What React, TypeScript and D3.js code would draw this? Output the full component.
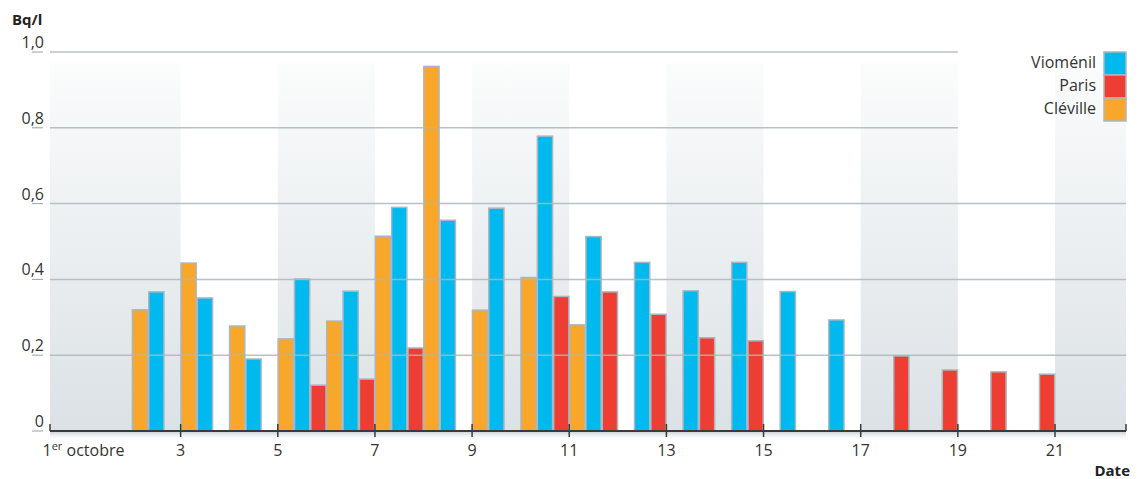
import React from "react";
import * as d3 from "d3";

// days of October (bars sit inside the day, tick at day start)
const days = [2, 3, 4, 5, 6, 7, 8, 9, 10, 11, 12, 13, 14, 15, 16, 17, 18, 19, 20];
const cleville = [0.32, 0.443, 0.277, 0.243, 0.29, 0.514, 0.962, 0.319, 0.405, 0.28, null, null, null, null, null, null, null, null, null];
const viomenil = [0.367, 0.351, 0.19, 0.401, 0.369, 0.59, 0.556, 0.588, 0.778, 0.513, 0.445, 0.37, 0.445, 0.368, 0.293, null, null, null, null];
const paris = [null, null, null, 0.121, 0.137, 0.219, null, null, 0.355, 0.367, 0.308, 0.246, 0.238, null, null, 0.198, 0.161, 0.156, 0.15];

const seriesNames = ["Cléville", "Vioménil", "Paris"];
const legendNames = ["Vioménil", "Paris", "Cléville"];
const colors: Record<string, string> = { "Vioménil": "#00b9ef", Paris: "#ee3d32", "Cléville": "#f9a72b" };
const seriesValues: Record<string, (number | null)[]> = { "Cléville": cleville, "Vioménil": viomenil, Paris: paris };

const xTicks = [1, 3, 5, 7, 9, 11, 13, 15, 17, 19, 21];
const yTicks = [0, 0.2, 0.4, 0.6, 0.8, 1.0];
// shaded periods (start day, end day); null = edge of plot
const bands: [number | null, number | null][] = [[null, 3], [5, 7], [9, 11], [13, 15], [17, 19], [21, null]];

const W = 1144;
const H = 479;
const left = 50;
const right = 1126;
const font = "'Open Sans', 'Noto Sans', sans-serif";

const App = () => {
  const x = d3.scaleLinear().domain([1, 21]).range([83.5, 1055]);
  const y = d3.scaleLinear().domain([0, 1]).range([431, 52]);
  const dayW = x(2) - x(1);
  const inner = d3.scaleBand().domain(seriesNames).range([0, dayW]).paddingInner(0.07).paddingOuter(0.02);
  const fmt = (v: number) => (v === 0 ? "0" : d3.format(".1f")(v).replace(".", ","));

  const bars: { key: string; x: number; y: number; w: number; h: number; c: string }[] = [];
  seriesNames.forEach((s) => {
    seriesValues[s].forEach((v, i) => {
      if (v == null) return;
      const d = days[i];
      bars.push({
        key: s + d,
        x: x(d) + (inner(s) as number),
        y: y(v),
        w: inner.bandwidth(),
        h: y(0) - y(v),
        c: colors[s],
      });
    });
  });

  return (
    <svg width={W} height={H} style={{ position: "absolute", left: 0, top: 0, fontFamily: font }}>
      <defs>
        <linearGradient id="band" x1="0" y1="0" x2="0" y2="1">
          <stop offset="0" stopColor="#fbfcfc" />
          <stop offset="1" stopColor="#dbe1e5" />
        </linearGradient>
        <linearGradient id="shadow" x1="0" y1="0" x2="0" y2="1">
          <stop offset="0" stopColor="#d0d6da" />
          <stop offset="1" stopColor="#ffffff" stopOpacity="0" />
        </linearGradient>
      </defs>

      {/* shaded periods */}
      {bands.map(([a, b], i) => {
        const x0 = a == null ? left : x(a);
        const x1 = b == null ? right : x(b);
        return <rect key={i} x={x0} y={y(0.97)} width={x1 - x0} height={y(0) - y(0.97)} fill="url(#band)" />;
      })}

      {/* bars */}
      {bars.map((b) => (
        <rect key={b.key} x={b.x} y={b.y} width={b.w} height={b.h} fill={b.c} stroke="#aab7c0" strokeWidth={1.5} />
      ))}

      {/* grid lines, drawn over the bars */}
      {yTicks.filter((t) => t > 0).map((t) => (
        <line key={t} x1={left} x2={t >= 0.8 ? x(19) : right} y1={y(t)} y2={y(t)} stroke="#a9b6c0" strokeOpacity={0.85} strokeWidth={1.5} />
      ))}

      {/* y labels */}
      {yTicks.map((t) => (
        <g key={t}>
          <line x1={32} x2={43} y1={y(t)} y2={y(t)} stroke="#9aa0a4" strokeWidth={1} />
          <text x={44} y={y(t) - 4} textAnchor="end" fontSize={16} fill="#333">{fmt(t)}</text>
        </g>
      ))}
      <text x={12} y={25} fontSize={15} fontWeight="bold" fill="#222">Bq/l</text>

      {/* x axis */}
      <rect x={left} y={y(0) + 1} width={right - left} height={9} fill="url(#shadow)" />
      <line x1={left} x2={right} y1={y(0)} y2={y(0)} stroke="#3a3a3a" strokeWidth={2} />
      <line x1={left} x2={left} y1={y(0) - 7} y2={y(0)} stroke="#3a3a3a" strokeWidth={1.5} />
      <line x1={right} x2={right} y1={y(0) - 7} y2={y(0)} stroke="#3a3a3a" strokeWidth={1.5} />
      {xTicks.filter((d) => d > 1).map((d) => (
        <line key={d} x1={x(d)} x2={x(d)} y1={y(0) - 7} y2={y(0) + 6} stroke="#3a3a3a" strokeWidth={1.5} />
      ))}
      {xTicks.map((d) => (
        <text key={d} x={x(d)} y={456} textAnchor="middle" fontSize={16} fill="#333">
          {d === 1 ? (
            <>
              1<tspan fontSize={11} dy={-6}>er</tspan>
              <tspan dy={6}> octobre</tspan>
            </>
          ) : (
            d
          )}
        </text>
      ))}
      <text x={1130} y={476} textAnchor="end" fontSize={15} fontWeight="bold" fill="#222">Date</text>

      {/* legend */}
      {legendNames.map((s, i) => (
        <g key={s}>
          <rect x={1104} y={52 + i * 23} width={22} height={23} fill={colors[s]} stroke="#aab7c0" strokeWidth={1.5} />
          <text x={1096} y={68 + i * 23} textAnchor="end" fontSize={16} fill="#333">{s}</text>
        </g>
      ))}
    </svg>
  );
};

export default App;
